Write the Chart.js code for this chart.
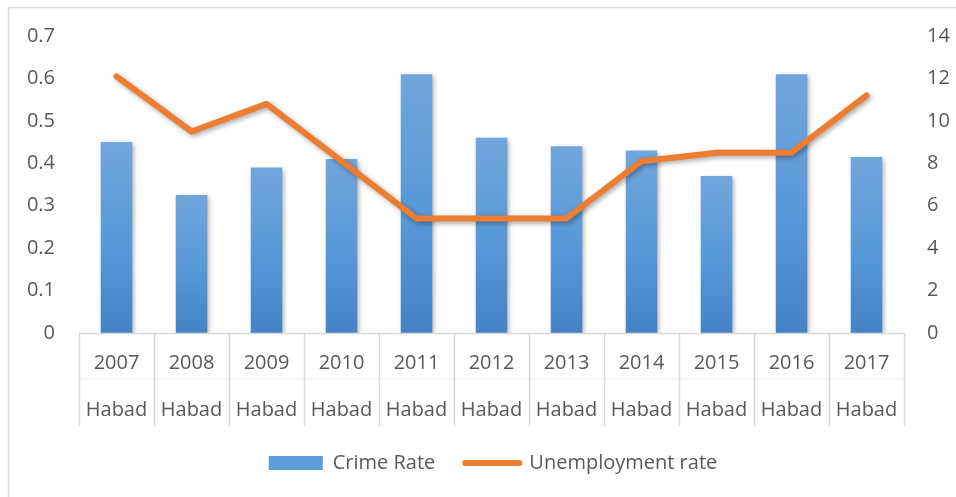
<!DOCTYPE html>
<html>
<head>
<meta charset="utf-8">
<script src="https://cdn.jsdelivr.net/npm/chart.js@4/dist/chart.umd.min.js"></script>
<style>
  html, body { margin: 0; padding: 0; background: #fff; }
  #wrap { width: 956px; height: 497px; position: relative; }
</style>
</head>
<body>
<div id="wrap"><canvas id="c" width="956" height="497"></canvas></div>
<script>
// Years and region labels for the two-level category axis
const years = ['2007', '2008', '2009', '2010', '2011', '2012', '2013', '2014', '2015', '2016', '2017'];
const region = 'Habad';

// Series values
const crimeRate = [0.45, 0.325, 0.39, 0.41, 0.61, 0.46, 0.44, 0.43, 0.37, 0.61, 0.415];
const unemploymentRate = [12.1, 9.5, 10.8, 8.1, 5.4, 5.4, 5.4, 8.1, 8.5, 8.5, 11.2];

// Axis tick labels
const leftTicks = ['0', '0.1', '0.2', '0.3', '0.4', '0.5', '0.6', '0.7'];
const rightTicks = ['0', '2', '4', '6', '8', '10', '12', '14'];

const labels = years.map(y => [y, region]);
const FONT = "'Open Sans', 'DejaVu Sans', sans-serif";
const TEXT = '#595959';
const RULE = '#d9d9d9';

// Vertical gradient for each bar, from its top down to the baseline
function barFill(ctx) {
  const chart = ctx.chart;
  const y = chart.scales && chart.scales.y;
  if (!chart.chartArea || !y || ctx.type !== 'data' || ctx.raw == null) return '#5b9bd5';
  const top = y.getPixelForValue(ctx.raw);
  const bottom = y.getPixelForValue(0);
  const g = chart.ctx.createLinearGradient(0, top, 0, bottom);
  g.addColorStop(0, '#71a6dc');
  g.addColorStop(0.55, '#5798d8');
  g.addColorStop(1, '#4483c6');
  return g;
}

// Soft drop shadow under bars and line
const shadowPlugin = {
  id: 'shadow',
  beforeDatasetDraw(chart) {
    const c = chart.ctx;
    c.save();
    c.shadowColor = 'rgba(0,0,0,0.35)';
    c.shadowBlur = 5;
    c.shadowOffsetX = 2;
    c.shadowOffsetY = 2;
  },
  afterDatasetDraw(chart) {
    chart.ctx.restore();
  }
};

// Nudge the legend row a little to the right of the canvas centre
const legendShift = {
  id: 'legendShift',
  afterUpdate(chart) {
    const lg = chart.legend;
    if (!lg) return;
    lg.left += 30;
    lg.adjustHitBoxes();
  }
};

// Outer frame, category axis line and the separators of the two-level axis
const framePlugin = {
  id: 'frame',
  beforeDraw(chart) {
    const c = chart.ctx;
    c.save();
    c.strokeStyle = RULE;
    c.lineWidth = 1.5;
    c.strokeRect(8.5, 7.5, chart.width + 20, chart.height + 20);
    c.restore();
  },
  afterDraw(chart) {
    const c = chart.ctx;
    const a = chart.chartArea;
    const n = years.length;
    const step = (a.right - a.left) / n;
    const depth = 93;
    c.save();
    // faint divider between the two label rows
    c.strokeStyle = '#f0f0f0';
    c.lineWidth = 1;
    c.beginPath();
    c.moveTo(a.left, a.bottom + 46);
    c.lineTo(a.right, a.bottom + 46);
    c.stroke();
    c.strokeStyle = RULE;
    c.lineWidth = 1.5;
    c.beginPath();
    c.moveTo(a.left, a.bottom + 0.5);
    c.lineTo(a.right, a.bottom + 0.5);
    for (let i = 0; i <= n; i++) {
      const px = Math.round(a.left + step * i) + 0.5;
      c.moveTo(px, a.bottom);
      c.lineTo(px, a.bottom + depth);
    }
    c.stroke();
    c.restore();
  }
};

new Chart(document.getElementById('c'), {
  data: {
    labels: labels,
    datasets: [
      {
        type: 'bar',
        label: 'Crime Rate',
        data: crimeRate,
        yAxisID: 'y',
        order: 1,
        backgroundColor: barFill,
        borderWidth: 0,
        barPercentage: 0.42,
        categoryPercentage: 1,
        pointStyle: 'rect'
      },
      {
        type: 'line',
        label: 'Unemployment rate',
        data: unemploymentRate,
        yAxisID: 'y1',
        order: 0,
        borderColor: '#ed7d31',
        backgroundColor: '#ed7d31',
        borderWidth: 6,
        borderCapStyle: 'round',
        borderJoinStyle: 'round',
        pointRadius: 0,
        pointHoverRadius: 0,
        tension: 0,
        pointStyle: 'line'
      }
    ]
  },
  options: {
    responsive: false,
    animation: false,
    devicePixelRatio: 1,
    layout: { padding: { left: 0, right: 0, top: 35, bottom: 14 } },
    plugins: {
      tooltip: { enabled: false },
      legend: {
        position: 'bottom',
        labels: {
          usePointStyle: true,
          pointStyleWidth: 54,
          boxHeight: 14,
          padding: 30,
          color: TEXT,
          font: { family: FONT, size: 20 },
          sort: (a, b) => a.datasetIndex - b.datasetIndex,
          generateLabels(chart) {
            const items = Chart.defaults.plugins.legend.labels.generateLabels(chart);
            items.forEach(it => {
              if (it.datasetIndex === 0) { it.fillStyle = '#5d9cd8'; it.strokeStyle = '#5d9cd8'; it.lineWidth = 0; }
              else { it.lineWidth = 6; it.lineCap = 'round'; }
            });
            return items;
          }
        }
      }
    },
    scales: {
      x: {
        offset: true,
        grid: { display: false },
        border: { display: false },
        ticks: {
          color: TEXT,
          padding: -1,
          maxRotation: 0,
          autoSkip: false,
          font: { family: FONT, size: 20, lineHeight: '47px' }
        },
        afterFit(s) { s.height = 90; }
      },
      y: {
        position: 'left',
        min: 0,
        max: 0.7,
        grid: { display: false, drawTicks: false },
        border: { display: false },
        ticks: {
          stepSize: 0.1,
          padding: 24,
          color: TEXT,
          font: { family: FONT, size: 20 },
          callback: (v, i) => leftTicks[i]
        },
        afterFit(s) { s.width = 79; }
      },
      y1: {
        position: 'right',
        min: 0,
        max: 14,
        grid: { display: false, drawTicks: false },
        border: { display: false },
        ticks: {
          stepSize: 2,
          padding: 23,
          color: TEXT,
          font: { family: FONT, size: 20 },
          callback: (v, i) => rightTicks[i]
        },
        afterFit(s) { s.width = 52; }
      }
    }
  },
  plugins: [shadowPlugin, legendShift, framePlugin]
});
</script>
</body>
</html>
